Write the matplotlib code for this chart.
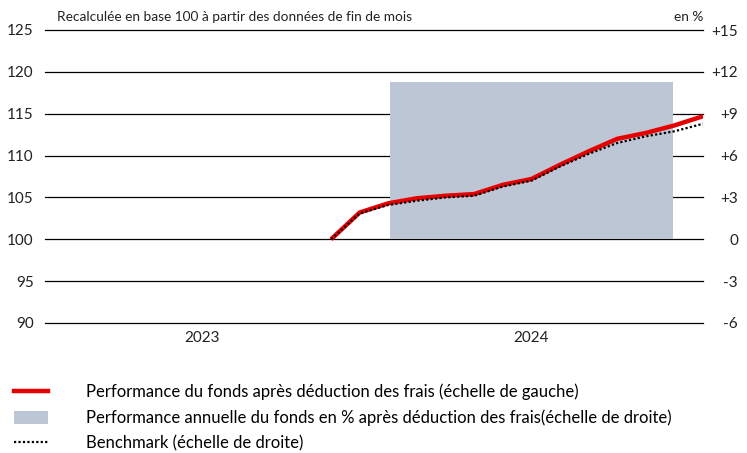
import numpy as np
import matplotlib
matplotlib.use("Agg")
import matplotlib.pyplot as plt
from matplotlib.lines import Line2D
from matplotlib.patches import Patch

plt.rcParams['font.family'] = ['Lato', 'DejaVu Sans']

# monthly positions (0 = Jan 2023 ... 23 = Dec 2024)
month_idx = np.arange(10, 24)
fund = [100.0, 103.2, 104.3, 104.9, 105.2, 105.4, 106.5, 107.2,
        108.9, 110.5, 112.0, 112.7, 113.6, 114.7]
bench = [100.0, 103.1, 104.1, 104.6, 105.0, 105.2, 106.3, 107.0,
         108.7, 110.2, 111.5, 112.3, 112.9, 113.8]

years = ['2023', '2024']
year_pos = [5.5, 17]
annual_year_pos = [17]
annual_perf = [11.3]

left_ticks = [90, 95, 100, 105, 110, 115, 120, 125]
right_ticks = [-6, -3, 0, 3, 6, 9, 12, 15]
right_labels = ['-6', '-3', '0', '+3', '+6', '+9', '+12', '+15']

red = '#E60000'
grey = '#BDC6D4'
txt = '#222222'

fig = plt.figure(figsize=(7.47, 4.53), dpi=100)
ax = fig.add_axes([45/747, (453-323)/453, (703-45)/747, (323-30)/453])
ax2 = ax.twinx()

# right axis: gridlines + annual bar (below)
ax2.set_ylim(-6, 15)
for t in right_ticks:
    ax2.axhline(t, color='black', lw=0.9, zorder=0, clip_on=False)
ax2.bar(annual_year_pos, annual_perf, width=9.9, color=grey, zorder=1)

# left axis: index lines (on top)
ax.set_zorder(ax2.get_zorder() + 1)
ax.patch.set_visible(False)
ax.set_ylim(90, 125)
ax.set_xlim(0, 23)
ax.plot(month_idx, fund, color=red, lw=3.2, solid_capstyle='butt', zorder=3)
ax.plot(month_idx, bench, color='black', lw=1.6, linestyle=(0, (1, 1)), zorder=4)

for a in (ax, ax2):
    for s in a.spines.values():
        s.set_visible(False)

ax.set_yticks(left_ticks)
ax.set_yticklabels([str(t) for t in left_ticks])
ax.tick_params(axis='y', length=0, pad=8, labelsize=11, colors=txt)

ax2.set_yticks(right_ticks)
ax2.set_yticklabels(right_labels)
ax2.tick_params(axis='y', length=0, pad=0, labelsize=11, colors=txt)
for lbl in ax2.get_yticklabels():
    lbl.set_horizontalalignment('right')
    lbl.set_x(1.0 + 35/658)

ax.set_xticks(year_pos)
ax.set_xticklabels(years)
ax.tick_params(axis='x', length=0, pad=6, labelsize=11, colors=txt)

fig.text(57/747, 1 - 17/453, 'Recalculée en base 100 à partir des données de fin de mois',
         fontsize=9.8, color=txt, va='center', ha='left')
fig.text(703/747, 1 - 17/453, 'en %', fontsize=9.8, color=txt, va='center', ha='right')

handles = [Line2D([], [], color=red, lw=3.2),
           Patch(facecolor=grey, edgecolor='none'),
           Line2D([], [], color='black', lw=1.6, linestyle=(0, (1, 1)))]
labels = ['Performance du fonds après déduction des frais (échelle de gauche)',
          'Performance annuelle du fonds en % après déduction des frais(échelle de droite)',
          'Benchmark (échelle de droite)']
fig.legend(handles, labels, loc='upper left', bbox_to_anchor=(0.003, 1 - 372/453),
           frameon=False, fontsize=12, handlelength=2.05, handleheight=0.8,
           handletextpad=2.3, labelspacing=0.55, borderaxespad=0.3)

fig.savefig('out.png', dpi=100)
